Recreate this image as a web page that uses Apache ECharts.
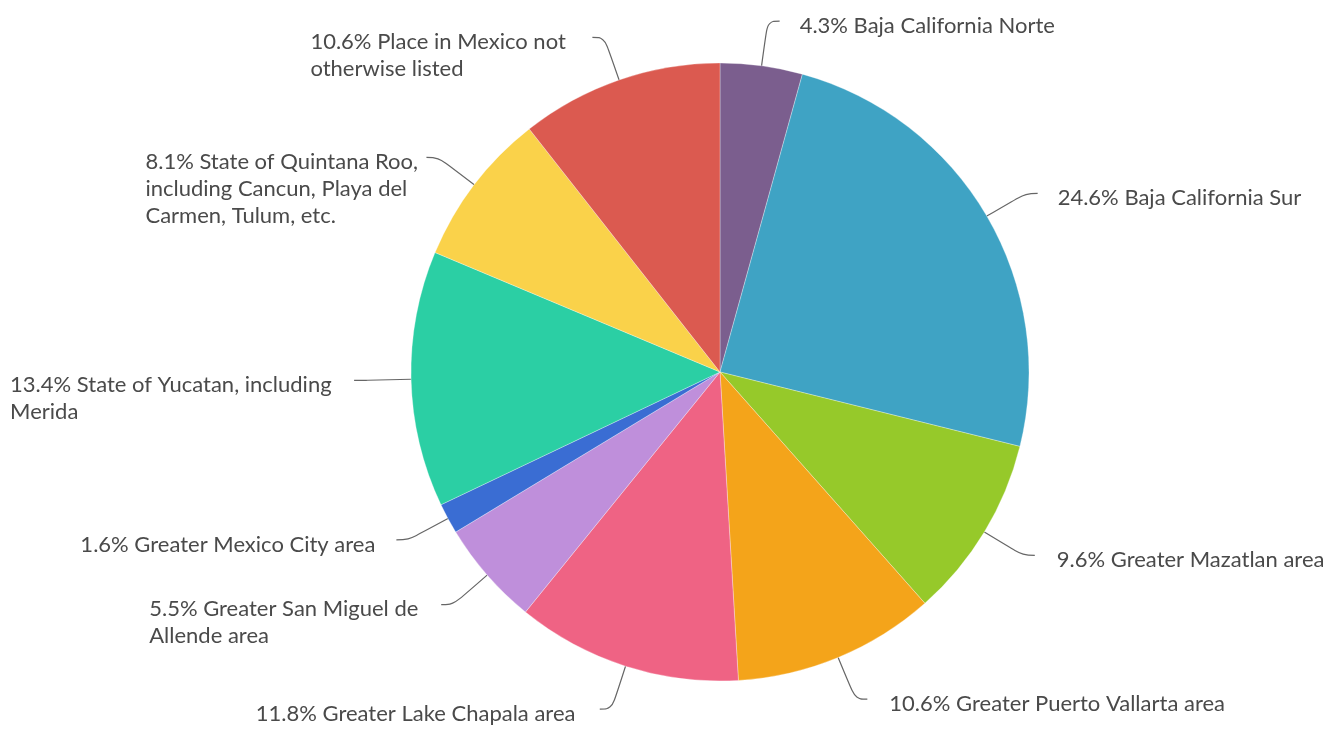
<!DOCTYPE html>
<html>
<head>
<meta charset="utf-8">
<script src="https://cdn.jsdelivr.net/npm/echarts@6/dist/echarts.min.js"></script>
<style>
  html, body { margin: 0; padding: 0; background: #fff; }
  #chart { width: 1331px; height: 729px; }
</style>
</head>
<body>
<div id="chart"></div>
<script>
// Where respondents live in Mexico (share of responses, %)
const regions = [
  'Baja California Norte',
  'Baja California Sur',
  'Greater Mazatlan area',
  'Greater Puerto Vallarta area',
  'Greater Lake Chapala area',
  'Greater San Miguel de Allende area',
  'Greater Mexico City area',
  'State of Yucatan, including Merida',
  'State of Quintana Roo, including Cancun, Playa del Carmen, Tulum, etc.',
  'Place in Mexico not otherwise listed'
];
const shares = [4.3, 24.6, 9.6, 10.6, 11.8, 5.5, 1.6, 13.4, 8.1, 10.6];
// Label text as it wraps on screen
const labelLines = [
  ['4.3% Baja California Norte'],
  ['24.6% Baja California Sur'],
  ['9.6% Greater Mazatlan area'],
  ['10.6% Greater Puerto Vallarta area'],
  ['11.8% Greater Lake Chapala area'],
  ['5.5% Greater San Miguel de', 'Allende area'],
  ['1.6% Greater Mexico City area'],
  ['13.4% State of Yucatan, including', 'Merida'],
  ['8.1% State of Quintana Roo,', 'including Cancun, Playa del', 'Carmen, Tulum, etc.'],
  ['10.6% Place in Mexico not', 'otherwise listed']
];
const sliceColors = ['#7B5E8E', '#3FA3C4', '#96C92A', '#F4A41A', '#EF6384',
                     '#BF8FDB', '#3A6DD3', '#2BCFA4', '#FAD24A', '#DB5A50'];
// Gap between label line and text, per slice
const labelGaps = [20, 20, 22, 22, 24, 22, 20, 22, 8, 26];

const FONT_SIZE = 22;
const LINE_H = 27;
const FONT = FONT_SIZE + 'px Lato';
const TEXT_COLOR = '#4a4a4a';

// Measure text so multi-line labels can stay left-aligned inside their block
const ctx = document.createElement('canvas').getContext('2d');
ctx.font = FONT;
function blockWidth(lines) {
  return Math.ceil(Math.max.apply(null, lines.map(l => ctx.measureText(l).width)));
}

const data = regions.map((name, i) => {
  const lines = labelLines[i];
  const w = blockWidth(lines);
  return {
    name: name,
    value: shares[i],
    itemStyle: { color: sliceColors[i] },
    label: {
      formatter: lines.map(l => '{t|' + l + '}').join('\n'),
      distanceToLabelLine: labelGaps[i],
      // first line sits just below the end of the label line
      padding: [(lines.length - 1) * LINE_H + 9, 0, 0, 0],
      rich: {
        t: {
          width: w,
          align: 'left',
          fontFamily: 'Lato',
          fontSize: FONT_SIZE,
          lineHeight: LINE_H,
          color: TEXT_COLOR
        }
      }
    }
  };
});

const chart = echarts.init(document.getElementById('chart'), null, { renderer: 'canvas' });
chart.setOption({
  animation: false,
  series: [{
    type: 'pie',
    center: [720, 372],
    radius: 309,
    startAngle: 90,
    clockwise: true,
    avoidLabelOverlap: false,
    data: data,
    itemStyle: { borderColor: 'rgba(255,255,255,0.6)', borderWidth: 0.5 },
    label: {
      show: true,
      position: 'outside',
      fontFamily: 'Lato',
      fontSize: FONT_SIZE,
      lineHeight: LINE_H,
      color: TEXT_COLOR
    },
    labelLine: {
      show: true,
      length: 45,
      length2: 12,
      smooth: 0.4,
      lineStyle: { color: '#666', width: 1.2 }
    },
    emphasis: { disabled: true }
  }]
});
</script>
</body>
</html>
